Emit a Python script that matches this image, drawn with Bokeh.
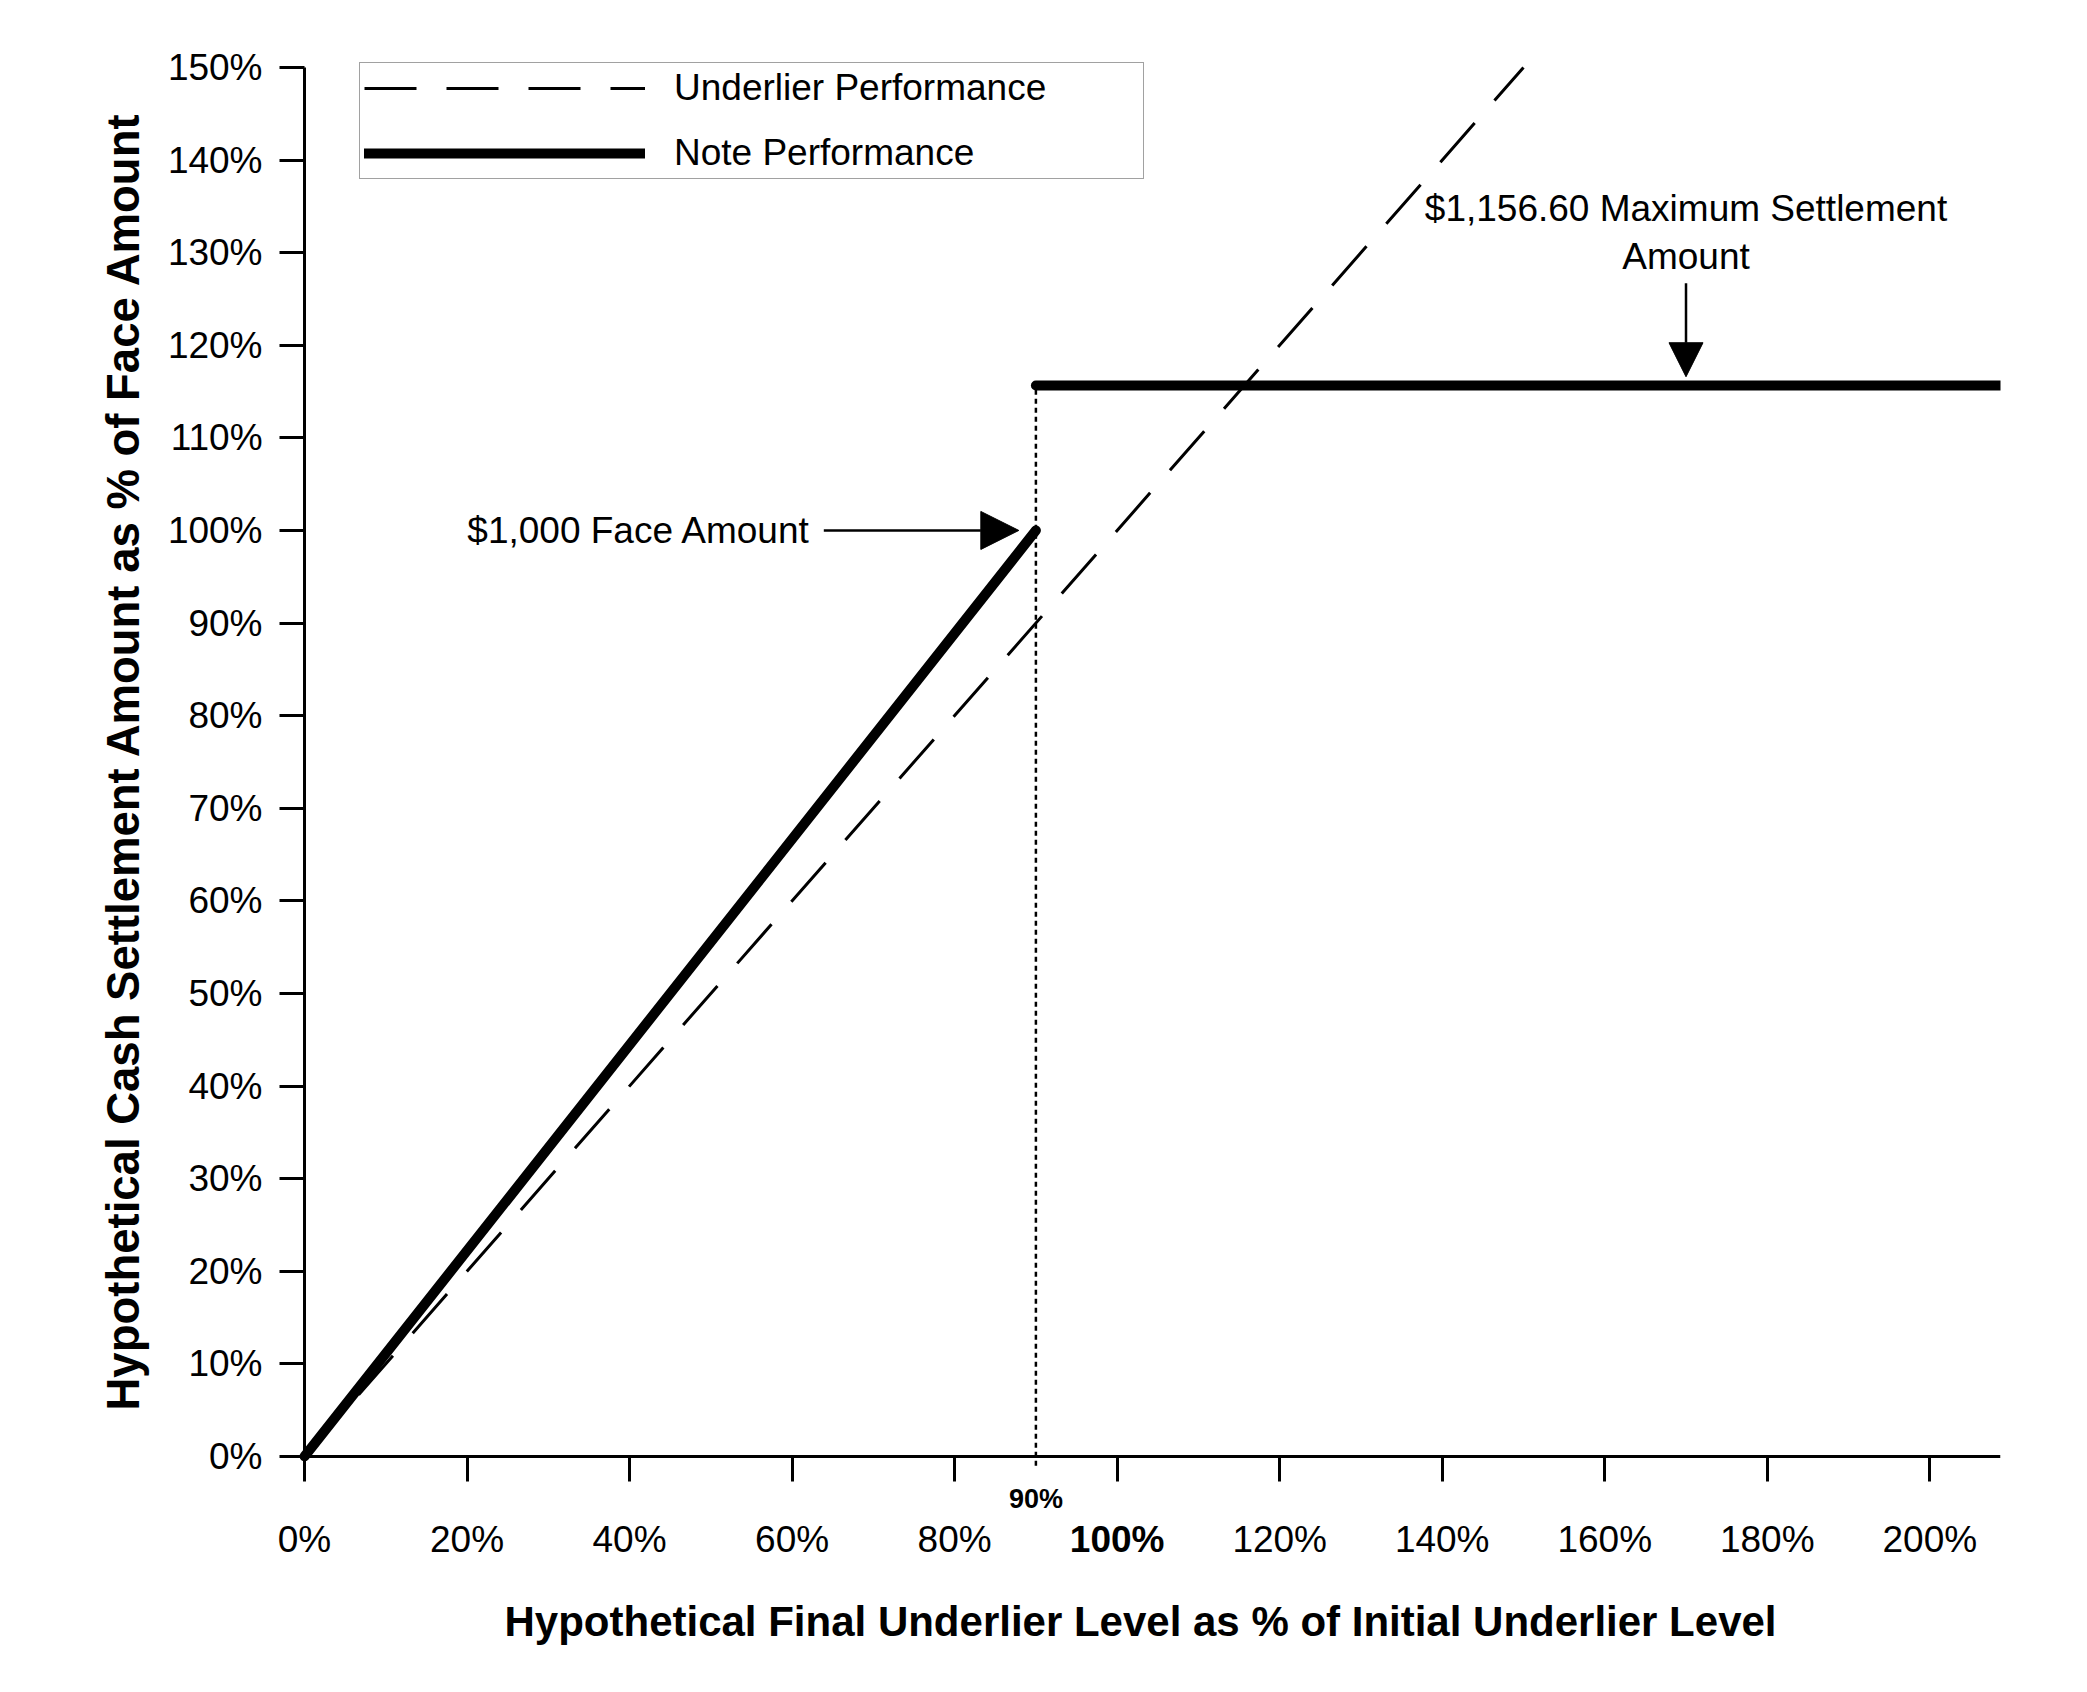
from bokeh.plotting import figure
from bokeh.models import Range1d, FixedTicker, Label, Arrow, NormalHead, Legend, LegendItem, Title
from bokeh.embed import file_html
from bokeh.resources import INLINE

# ---- data (percent of initial level / face amount) ----
underlier_x = [0, 150]
underlier_y = [0, 150]
note_lower_x = [0, 90]
note_lower_y = [0, 100]
note_upper_x = [90, 208.7]
note_upper_y = [115.66, 115.66]
buffer_x = [90, 90]
buffer_y = [-1.0, 115.66]
x_ticks = [0, 20, 40, 60, 80, 100, 120, 140, 160, 180, 200]
y_ticks = [0, 10, 20, 30, 40, 50, 60, 70, 80, 90, 100, 110, 120, 130, 140, 150]

FONT = "Liberation Sans"

# the frame is wider/taller than the axes so that tick labels (incl. the bold ones) sit inside it
p = figure(width=2060, height=1670, output_backend="svg", toolbar_location=None,
           x_range=Range1d(-18.954, 208.7), y_range=Range1d(-12.32, 152.48),
           min_border_left=150, min_border_right=60, min_border_top=44, min_border_bottom=100)
p.outline_line_color = None
p.xgrid.grid_line_color = None
p.ygrid.grid_line_color = None
p.background_fill_color = "white"
p.border_fill_color = "white"

# axes
for ax in (p.xaxis[0], p.yaxis[0]):
    ax.axis_line_width = 3
    ax.axis_line_color = "black"
    ax.major_tick_line_width = 3
    ax.major_tick_line_color = "black"
    ax.major_tick_out = 25
    ax.major_tick_in = 0
    ax.minor_tick_line_color = None
    ax.major_label_text_font = FONT
    ax.major_label_text_font_size = "37px"
    ax.major_label_text_color = "black"

p.xaxis.fixed_location = 0
p.yaxis.fixed_location = 0
p.xaxis.bounds = (0, 208.7)
p.yaxis.bounds = (0, 150)
p.xaxis.ticker = FixedTicker(ticks=x_ticks)
p.yaxis.ticker = FixedTicker(ticks=y_ticks)
p.xaxis.major_label_overrides = {t: ("" if t == 100 else f"{t}%") for t in x_ticks}
p.yaxis.major_label_overrides = {t: f"{t}%" for t in y_ticks}
p.xaxis.major_label_standoff = 38
p.yaxis.major_label_standoff = 17

# axis titles
p.add_layout(Title(text="Hypothetical Cash Settlement Amount as % of Face Amount", align="left",
                   offset=160, standoff=3, text_font=FONT, text_font_style="bold",
                   text_font_size="45.5px", text_color="black"), "left")
p.add_layout(Title(text="Hypothetical Final Underlier Level as % of Initial Underlier Level", align="left",
                   offset=354, standoff=50, text_font=FONT, text_font_style="bold",
                   text_font_size="42px", text_color="black"), "below")

# lines
r_under = p.line(underlier_x, underlier_y, line_color="black", line_width=3, line_dash="52 30")
p.line(buffer_x, buffer_y, line_color="black", line_width=2.5, line_dash="5 4")
p.line(note_lower_x, note_lower_y, line_color="black", line_width=10, line_cap="round")
r_note = p.line(note_upper_x, note_upper_y, line_color="black", line_width=10, line_cap="round")

# special x labels
p.add_layout(Label(x=100, y=-6.8, text="100%", text_align="center", text_baseline="top",
                   text_font=FONT, text_font_style="bold", text_font_size="37px", text_color="black"))
p.add_layout(Label(x=90, y=-4.64, text="90%", text_align="center", text_baseline="middle",
                   text_font=FONT, text_font_style="bold", text_font_size="27px", text_color="black"))

# annotations
p.add_layout(Label(x=62.3, y=100, text="$1,000 Face Amount", text_align="right", text_baseline="middle",
                   text_font=FONT, text_font_size="37px", text_color="black"))
p.add_layout(Arrow(x_start=63.9, y_start=100, x_end=87.9, y_end=100, line_width=2.5, line_color="black",
                   end=NormalHead(size=38, fill_color="black", line_color="black")))
p.add_layout(Label(x=170, y=134.8, text="$1,156.60 Maximum Settlement", text_align="center",
                   text_baseline="middle", text_font=FONT, text_font_size="37px", text_color="black"))
p.add_layout(Label(x=170, y=129.6, text="Amount", text_align="center",
                   text_baseline="middle", text_font=FONT, text_font_size="37px", text_color="black"))
p.add_layout(Arrow(x_start=170, y_start=126.7, x_end=170, y_end=116.6, line_width=2.5, line_color="black",
                   end=NormalHead(size=34, fill_color="black", line_color="black")))

legend = Legend(items=[LegendItem(label="Underlier Performance", renderers=[r_under]),
                       LegendItem(label="Note Performance", renderers=[r_note])],
                location=(209, 1391), orientation="vertical",
                label_text_font=FONT, label_text_font_size="37px", label_text_color="black",
                glyph_width=281, glyph_height=36, label_height=36, label_width=465,
                label_standoff=29, spacing=23, padding=4, margin=0,
                border_line_color="#444444", border_line_width=1.5,
                background_fill_color="white", background_fill_alpha=1.0)
p.add_layout(legend)

open("out.html", "w").write(file_html(p, INLINE))
